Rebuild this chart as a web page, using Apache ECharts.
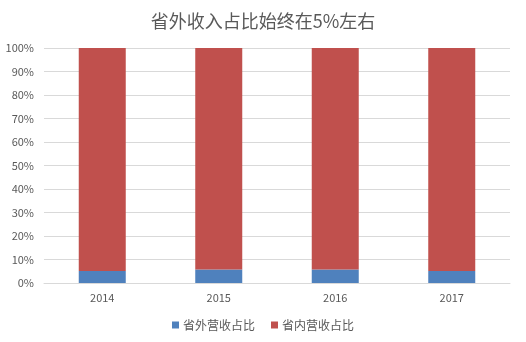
<!DOCTYPE html>
<html><head><meta charset="utf-8">
<script src="https://cdn.jsdelivr.net/npm/echarts@6/dist/echarts.min.js"></script>
<style>html,body{margin:0;padding:0;background:#fff}#c{width:526px;height:342px}</style>
</head><body><div id="c"></div>
<script>
var categories = ['2014', '2015', '2016', '2017'];
var outsideShare = [5.1, 5.7, 5.7, 5.1];
var insideShare = [94.9, 94.3, 94.3, 94.9];
var seriesNames = ['省外营收占比', '省内营收占比'];
var titleText = '省外收入占比始终在5%左右';

var chart = echarts.init(document.getElementById('c'), null, {renderer: 'canvas'});
var font = '"Noto Sans CJK SC", "Microsoft YaHei", sans-serif';
chart.setOption({
  animation: false,
  title: {text: titleText, left: 'center', top: 7,
    textStyle: {fontFamily: font, fontSize: 18, fontWeight: 'normal', color: '#595959'}},
  grid: {left: 44, right: 16, top: 48, bottom: 59},
  legend: {bottom: 6, left: 'center', itemWidth: 7, itemHeight: 7, itemGap: 16,
    icon: 'rect', textStyle: {fontFamily: font, fontSize: 12, color: '#595959', padding: [0, 0, 0, -1]},
    data: seriesNames},
  xAxis: {type: 'category', data: categories,
    axisLine: {lineStyle: {color: '#d9d9d9'}}, axisTick: {show: false},
    axisLabel: {color: '#595959', fontSize: 11, fontFamily: font, margin: 9}},
  yAxis: {type: 'value', min: 0, max: 100, interval: 10,
    axisLine: {show: false}, axisTick: {show: false},
    splitLine: {lineStyle: {color: '#d9d9d9'}},
    axisLabel: {formatter: '{value}%', color: '#595959', fontSize: 11, fontFamily: font, margin: 10}},
  series: [
    {name: seriesNames[0], type: 'bar', stack: 't', data: outsideShare, barWidth: 47,
      itemStyle: {color: '#4f81bd'}},
    {name: seriesNames[1], type: 'bar', stack: 't', data: insideShare, barWidth: 47,
      itemStyle: {color: '#c0504d'}}
  ]
});
</script></body></html>
